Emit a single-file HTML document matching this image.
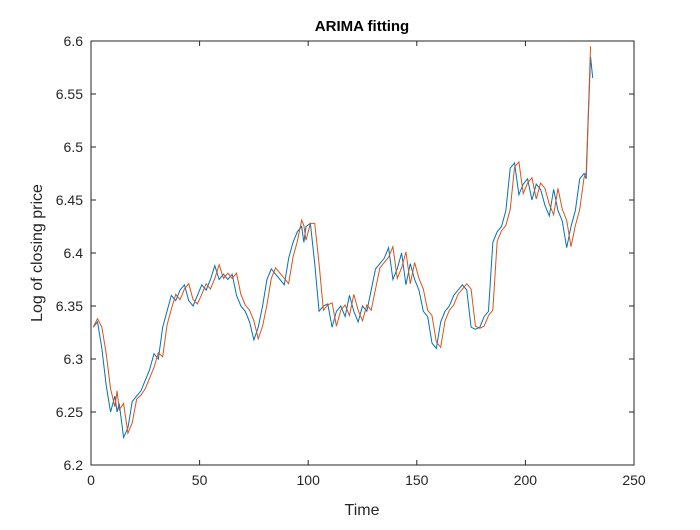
<!DOCTYPE html>
<html><head><meta charset="utf-8"><style>
body{margin:0;background:#fff;}
svg text{font-family:"Liberation Sans",Arial,sans-serif;fill:#262626;}
</style></head><body>
<svg id="chart" width="700" height="525">
<rect x="0" y="0" width="700" height="525" fill="#fff"/>
<g id="plot"></g>
<g id="axes"></g>
<text x="362" y="31" text-anchor="middle" font-size="15" font-weight="bold" style="fill:#000">ARIMA fitting</text>
<text x="362" y="515" text-anchor="middle" font-size="16">Time</text>
<text transform="translate(42,253) rotate(-90)" text-anchor="middle" font-size="16">Log of closing price</text>
</svg>
<script>
const xTicks=[0,50,100,150,200,250];
const yTicks=[6.2,6.25,6.3,6.35,6.4,6.45,6.5,6.55,6.6];
const time=[1,3,5,7,9,11,12,13,15,17,19,21,23,25,27,29,31,33,35,37,39,41,43,45,47,49,51,53,55,57,59,61,63,65,67,69,71,73,75,77,79,81,83,85,87,89,91,93,95,97,98,99,101,103,105,107,109,111,113,115,117,119,121,123,125,127,129,131,133,135,137,139,141,143,145,147,149,151,153,155,157,159,161,163,165,167,169,171,173,175,177,179,181,183,185,187,189,191,193,195,197,199,201,203,205,207,209,211,213,215,217,219,221,223,225,227,228,229,230,231];
const actual=[6.33,6.335,6.31,6.275,6.25,6.265,6.25,6.258,6.226,6.235,6.26,6.265,6.27,6.28,6.29,6.305,6.3,6.33,6.345,6.36,6.355,6.365,6.37,6.355,6.35,6.36,6.37,6.365,6.375,6.388,6.375,6.38,6.375,6.38,6.36,6.35,6.345,6.335,6.318,6.33,6.35,6.375,6.385,6.38,6.375,6.37,6.395,6.41,6.42,6.425,6.41,6.425,6.428,6.39,6.345,6.35,6.352,6.33,6.345,6.35,6.34,6.36,6.345,6.335,6.35,6.345,6.365,6.385,6.39,6.395,6.405,6.375,6.385,6.4,6.37,6.39,6.375,6.365,6.345,6.34,6.315,6.31,6.335,6.345,6.35,6.36,6.365,6.37,6.365,6.33,6.328,6.33,6.34,6.345,6.41,6.42,6.425,6.44,6.48,6.485,6.455,6.465,6.47,6.45,6.465,6.46,6.445,6.435,6.46,6.44,6.43,6.405,6.425,6.44,6.47,6.475,6.47,6.53,6.585,6.565];
const fitted=[6.33,6.338,6.33,6.305,6.272,6.255,6.27,6.252,6.258,6.23,6.24,6.262,6.266,6.272,6.282,6.292,6.306,6.302,6.332,6.347,6.361,6.356,6.366,6.371,6.356,6.352,6.361,6.371,6.366,6.376,6.389,6.376,6.381,6.376,6.381,6.361,6.351,6.346,6.336,6.319,6.331,6.351,6.376,6.386,6.381,6.376,6.371,6.396,6.411,6.431,6.426,6.412,6.428,6.428,6.39,6.346,6.351,6.353,6.331,6.346,6.351,6.341,6.361,6.346,6.336,6.351,6.346,6.366,6.386,6.391,6.396,6.406,6.376,6.386,6.401,6.371,6.391,6.376,6.366,6.346,6.341,6.316,6.311,6.336,6.346,6.351,6.361,6.366,6.371,6.366,6.331,6.329,6.331,6.341,6.346,6.411,6.421,6.426,6.441,6.481,6.486,6.456,6.466,6.471,6.451,6.466,6.461,6.446,6.436,6.461,6.441,6.431,6.406,6.426,6.441,6.471,6.476,6.535,6.595];
const X0=91,X1=634,Y0=465,Y1=41;
const xs=v=>X0+(v-0)/250*(X1-X0);
const ys=v=>Y0-(v-6.2)/0.4*(Y0-Y1);
const NS='http://www.w3.org/2000/svg';
const plot=document.getElementById('plot'),axes=document.getElementById('axes');
function mk(t,a,p){const e=document.createElementNS(NS,t);for(const k in a)e.setAttribute(k,a[k]);p.appendChild(e);return e;}
const pb=mk('path',{d:time.map((t,i)=>(i?'L':'M')+xs(t).toFixed(2)+' '+ys(actual[i]).toFixed(2)).join(''),fill:'none',stroke:'#0072BD','stroke-width':1},plot);


const pf=mk('path',{d:time.slice(0,fitted.length).map((t,i)=>(i?'L':'M')+xs(t).toFixed(2)+' '+ys(fitted[i]).toFixed(2)).join(''),fill:'none',stroke:'#D95319','stroke-width':1},plot);


const box=mk('rect',{x:X0,y:Y1,width:X1-X0,height:Y0-Y1,fill:'none',stroke:'#262626','stroke-width':1},axes);


xTicks.forEach(v=>{const x=xs(v);
mk('line',{x1:x,x2:x,y1:Y0,y2:Y0-5,stroke:'#262626'},axes);mk('line',{x1:x,x2:x,y1:Y1,y2:Y1+5,stroke:'#262626'},axes);
const t=mk('text',{x:x,y:Y0+20,'text-anchor':'middle','font-size':14},axes);t.textContent=v;

});
yTicks.forEach(v=>{const y=ys(v);
mk('line',{x1:X0,x2:X0+5,y1:y,y2:y,stroke:'#262626'},axes);mk('line',{x1:X1,x2:X1-5,y1:y,y2:y,stroke:'#262626'},axes);
const t=mk('text',{x:X0-8,y:y+5,'text-anchor':'end','font-size':14},axes);t.textContent=String(v);

});
</script>
</body></html>
